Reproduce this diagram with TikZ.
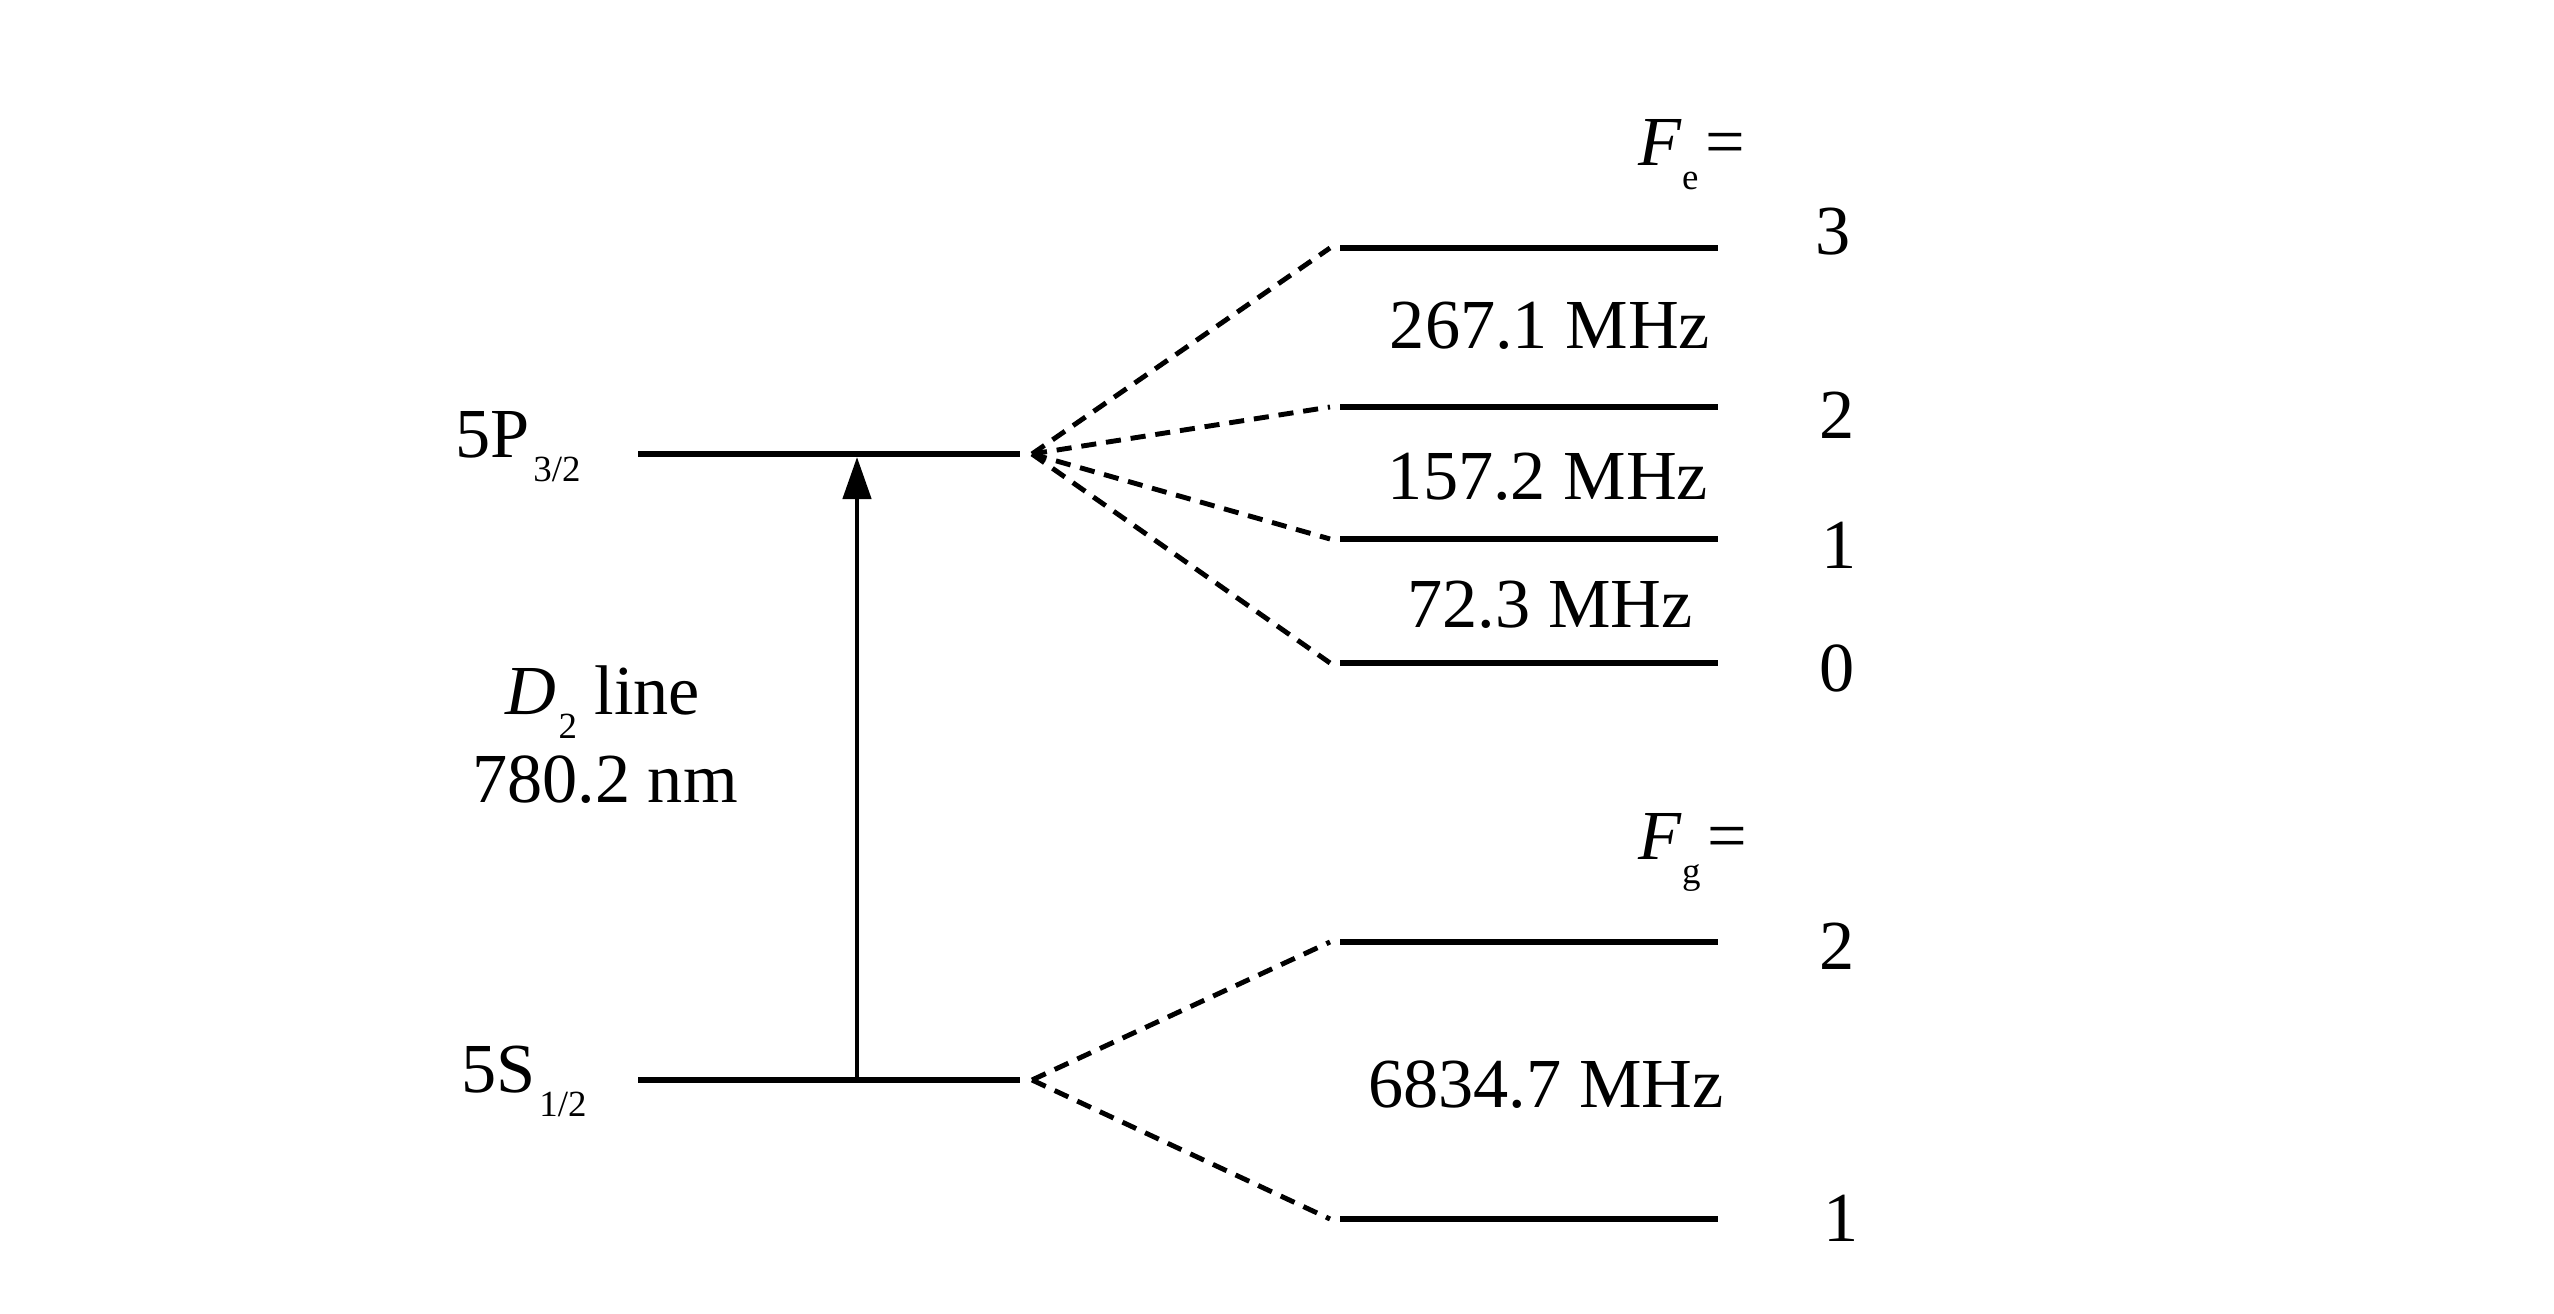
\documentclass[tikz,border=0pt]{standalone}
\usepackage{fontspec}
\setmainfont{Liberation Serif}
\usetikzlibrary{arrows.meta}
\newcommand{\lowsub}[1]{\raisebox{-6.6pt}{\fontsize{10.5}{12}\selectfont #1}}
\begin{document}
\begin{tikzpicture}[
  level/.style={line width=1.7pt},
  fan/.style={line width=1.4pt, dash pattern=on 4.3pt off 2.8pt},
  lbl/.style={inner sep=0pt, font=\fontsize{20}{24}\selectfont},
  trans/.style={line width=1.3pt, -{Triangle[length=12pt, width=8pt]}},
]
\useasboundingbox (0,0) rectangle (25.54,13.14);

% fine-structure levels
\coordinate (PL) at (6.38,8.60);
\coordinate (PR) at (10.20,8.60);
\coordinate (SL) at (6.38,2.34);
\coordinate (SR) at (10.20,2.34);
\coordinate (Pfan) at (10.32,8.60);
\coordinate (Sfan) at (10.32,2.34);
\coordinate (Abot) at (8.57,2.34);
\coordinate (Atop) at (8.57,8.57);

% hyperfine levels
\foreach \n/\y in {e3/10.66, e2/9.07, e1/7.75, e0/6.51, g2/3.72, g1/0.95} {
  \coordinate (\n L) at (13.40,\y);
  \coordinate (\n R) at (17.18,\y);
  \coordinate (\n D) at (13.30,\y);
}

\draw[level] (PL) -- (PR);
\draw[level] (SL) -- (SR);
\foreach \n in {e3,e2,e1,e0,g2,g1} {
  \draw[level] (\n L) -- (\n R);
}

% fan lines
\foreach \n in {e3,e2,e1,e0} {
  \draw[fan] (Pfan) -- (\n D);
}
\foreach \n in {g2,g1} {
  \draw[fan] (Sfan) -- (\n D);
}

% transition arrow
\draw[trans] (Abot) -- (Atop);

% labels
\node[lbl, anchor=base west] (lP) at (4.55,8.56) {5P\hspace{1pt}\lowsub{3/2}};
\node[lbl, anchor=base west] (lS) at (4.61,2.21) {5S\hspace{1pt}\lowsub{1/2}};
\node[lbl, anchor=base] (lD) at (6.03,5.99) {\textit{D}\hspace{0.6pt}\lowsub{2} line};
\node[lbl, anchor=base] (lW) at (6.05,5.11) {780.2 nm};

\node[lbl, anchor=base west] (lFe) at (16.38,11.48) {\textit{F}\lowsub{e}\hspace{2pt}=};
\node[lbl, anchor=base west] (lFg) at (16.38,4.54) {\textit{F}\lowsub{g}\hspace{2pt}=};

\node[lbl, anchor=base] (f32) at (15.50,9.65) {267.1 MHz};
\node[lbl, anchor=base] (f21) at (15.48,8.14) {157.2 MHz};
\node[lbl, anchor=base] (f10) at (15.50,6.86) {72.3 MHz};
\node[lbl, anchor=base] (fg) at (15.46,2.06) {6834.7 MHz};

\node[lbl, anchor=base] (n3) at (18.33,10.59) {3};
\node[lbl, anchor=base] (n2) at (18.37,8.75) {2};
\node[lbl, anchor=base] (n1) at (18.39,7.45) {1};
\node[lbl, anchor=base] (n0) at (18.37,6.22) {0};
\node[lbl, anchor=base] (m2) at (18.37,3.44) {2};
\node[lbl, anchor=base] (m1) at (18.41,0.72) {1};
\end{tikzpicture}
\end{document}
